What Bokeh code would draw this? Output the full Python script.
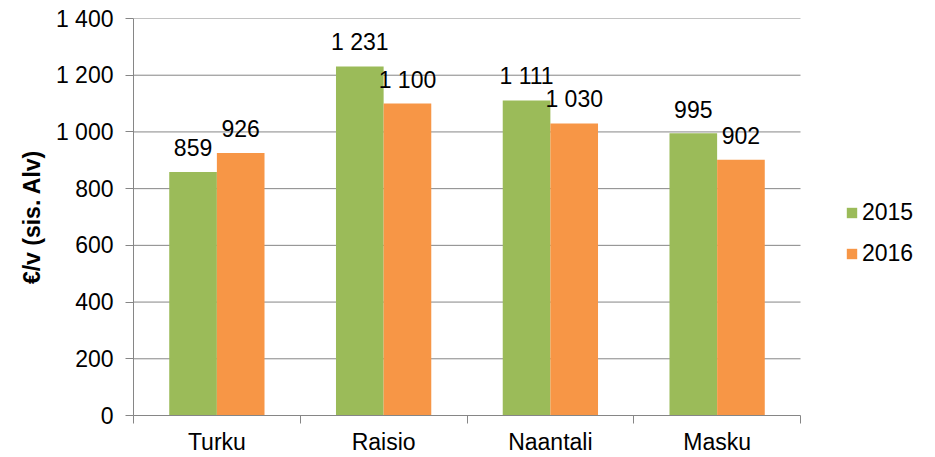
from bokeh.plotting import figure
from bokeh.models import Range1d, FixedTicker, Legend, LegendItem, ColumnDataSource
from bokeh.core.properties import value
from bokeh.embed import file_html
from bokeh.resources import INLINE

categories = ["Turku", "Raisio", "Naantali", "Masku"]
series_names = ["2015", "2016"]
values_2015 = [859, 1231, 1111, 995]
values_2016 = [926, 1100, 1030, 902]
y_ticks = [0, 200, 400, 600, 800, 1000, 1200, 1400]
y_tick_labels = ["0", "200", "400", "600", "800", "1 000", "1 200", "1 400"]
y_axis_title = "€/v (sis. Alv)"

colors = ["#9BBB59", "#F79646"]
FONT = "Liberation Sans"
GRAY = "#868686"
bar_w = 1 / 3.5
n_cat = len(categories)

W, H = 935, 457
LEFT, TOP, BOTTOM = 133, 18, 41
CAT_PX = 667  # pixel width of the category area
x_end = n_cat * (W - LEFT) / CAT_PX

def fmt(v):
    return f"{v:,}".replace(",", " ")

p = figure(width=W, height=H, output_backend="svg", toolbar_location=None,
           x_range=Range1d(0, x_end), y_range=Range1d(0, 1400),
           min_border_left=LEFT, min_border_right=0, min_border_top=TOP,
           min_border_bottom=BOTTOM)
p.outline_line_color = None
p.background_fill_color = "white"
p.border_fill_color = "white"

# horizontal gridlines limited to the category area
grid_y = y_ticks[1:]
p.segment(x0=[0] * len(grid_y), x1=[n_cat] * len(grid_y), y0=grid_y, y1=grid_y,
          line_color=GRAY, line_width=1)

renderers = []
for k, (name, vals) in enumerate(zip(series_names, [values_2015, values_2016])):
    xs = [i + 0.5 + (k - 0.5) * bar_w for i in range(n_cat)]
    src = ColumnDataSource(dict(x=xs, top=vals, lab=[fmt(v) for v in vals]))
    r = p.vbar(x="x", top="top", bottom=0, width=bar_w, source=src,
               fill_color=colors[k], line_color=None)
    renderers.append(r)
    p.text(x="x", y="top", text="lab", source=src, text_align="center",
           text_baseline="alphabetic", y_offset=-24,
           text_font=value(FONT), text_font_size="23px", text_color="black")

p.xgrid.visible = False
p.ygrid.visible = False

# y axis
p.yaxis.ticker = FixedTicker(ticks=y_ticks)
p.yaxis.major_label_overrides = {t: l for t, l in zip(y_ticks, y_tick_labels)}
p.yaxis.axis_line_color = GRAY
p.yaxis.major_tick_line_color = GRAY
p.yaxis.major_tick_out = 8
p.yaxis.major_tick_in = 0
p.yaxis.minor_tick_line_color = None
p.yaxis.major_label_standoff = 12
p.yaxis.major_label_text_font = FONT
p.yaxis.major_label_text_font_size = "23px"
p.yaxis.major_label_text_color = "black"
p.yaxis.axis_label = y_axis_title
p.yaxis.axis_label_text_font = FONT
p.yaxis.axis_label_text_font_size = "23px"
p.yaxis.axis_label_text_font_style = "bold"
p.yaxis.axis_label_text_color = "black"
p.yaxis.axis_label_standoff = 8

# x axis
centers = [i + 0.5 for i in range(n_cat)]
bounds = [i for i in range(n_cat + 1)]
p.xaxis.ticker = FixedTicker(ticks=centers, minor_ticks=bounds)
p.xaxis.bounds = (0, n_cat)
p.xaxis.major_label_overrides = {c: n for c, n in zip(centers, categories)}
p.xaxis.axis_line_color = GRAY
p.xaxis.major_tick_line_color = None
p.xaxis.major_tick_out = 8
p.xaxis.major_tick_in = 0
p.xaxis.minor_tick_line_color = GRAY
p.xaxis.minor_tick_out = 8
p.xaxis.minor_tick_in = 0
p.xaxis.major_label_standoff = 5
p.xaxis.major_label_text_font = FONT
p.xaxis.major_label_text_font_size = "23px"
p.xaxis.major_label_text_color = "black"

legend = Legend(items=[LegendItem(label=n, renderers=[r]) for n, r in zip(series_names, renderers)],
                location=(712, 148), orientation="vertical",
                glyph_width=13, glyph_height=13, label_standoff=4, spacing=14,
                padding=0, margin=0, border_line_color=None, background_fill_alpha=0,
                label_text_font=FONT, label_text_font_size="23px", label_text_color="black")
p.add_layout(legend)

open("out.html", "w").write(file_html(p, INLINE))
